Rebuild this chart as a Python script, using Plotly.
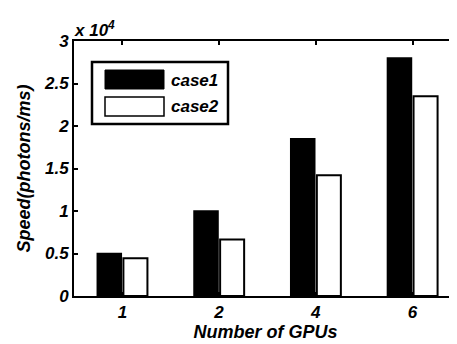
import plotly.graph_objects as go

gpus = ["1", "2", "4", "6"]
case1 = [5000, 10000, 18500, 28000]
case2 = [4450, 6650, 14200, 23500]
y_ticks = [0, 5000, 10000, 15000, 20000, 25000, 30000]
y_tick_labels = ["0", "0.5", "1", "1.5", "2", "2.5", "3"]

FONT = "Liberation Sans"
# page body has an 8px default margin, so shift the plot area to compensate
OFF = 8
L, T, PW, PH = 74 - OFF, 41 - OFF, 383, 255
WIDTH, HEIGHT = 457, 344

fig = go.Figure()
fig.add_trace(go.Bar(name="case1", x=gpus, y=case1,
                     marker=dict(color="black", line=dict(color="black", width=1.5))))
fig.add_trace(go.Bar(name="case2", x=gpus, y=case2,
                     marker=dict(color="white", line=dict(color="black", width=2))))

fig.update_layout(
    width=WIDTH, height=HEIGHT,
    margin=dict(l=L, r=WIDTH - L - PW, t=T, b=HEIGHT - T - PH, autoexpand=False),
    paper_bgcolor="white", plot_bgcolor="white",
    barmode="group", bargap=0.46, bargroupgap=0.08,
    showlegend=False,
    font=dict(family=FONT, color="black"),
)
fig.update_xaxes(
    type="category", range=[-0.5, 3.46],
    showline=True, linecolor="black", linewidth=2, mirror="allticks",
    ticks="inside", ticklen=4, tickwidth=2, tickcolor="black",
    showgrid=False, zeroline=False,
    tickfont=dict(size=17, family=FONT, weight="bold", style="italic"),
    title=dict(text="Number of GPUs", standoff=2,
               font=dict(size=18, family=FONT, weight="bold", style="italic")),
)
fig.update_yaxes(
    range=[0, 30000], tickvals=y_ticks, ticktext=y_tick_labels,
    showline=True, linecolor="black", linewidth=2, mirror=False,
    ticks="inside", ticklen=4, tickwidth=2, tickcolor="black",
    showgrid=False, zeroline=False,
    tickfont=dict(size=17, family=FONT, weight="bold", style="italic"),
    title=dict(text="Speed(photons/ms)", standoff=9,
               font=dict(size=18, family=FONT, weight="bold", style="italic")),
)

# exponent label
fig.add_annotation(xref="paper", yref="paper", x=0.0, y=1.0, xanchor="left", yanchor="bottom",
                   text="x 10<sup>4</sup>", showarrow=False, xshift=-2, yshift=-1,
                   font=dict(size=17, family=FONT, weight="bold", style="italic"))

# legend box (manual, to mimic large MATLAB swatches); coords in screen px
def px(x):
    return (x - 74) / PW
def py(y):
    return (296 - y) / PH

fig.add_shape(type="rect", xref="paper", yref="paper",
              x0=px(92), x1=px(228), y0=py(124), y1=py(62),
              line=dict(color="black", width=2.5), fillcolor="white")
fig.add_shape(type="rect", xref="paper", yref="paper",
              x0=px(105), x1=px(164), y0=py(89), y1=py(70),
              line=dict(color="black", width=1), fillcolor="black")
fig.add_shape(type="rect", xref="paper", yref="paper",
              x0=px(105), x1=px(164), y0=py(116), y1=py(97),
              line=dict(color="black", width=1.5), fillcolor="white")
for name, yc in [("case1", 80), ("case2", 107)]:
    fig.add_annotation(xref="paper", yref="paper", x=px(169), y=py(yc),
                       xanchor="left", yanchor="middle", text=name, showarrow=False,
                       font=dict(size=17, family=FONT, weight="bold", style="italic"))

fig.write_html("out.html")
